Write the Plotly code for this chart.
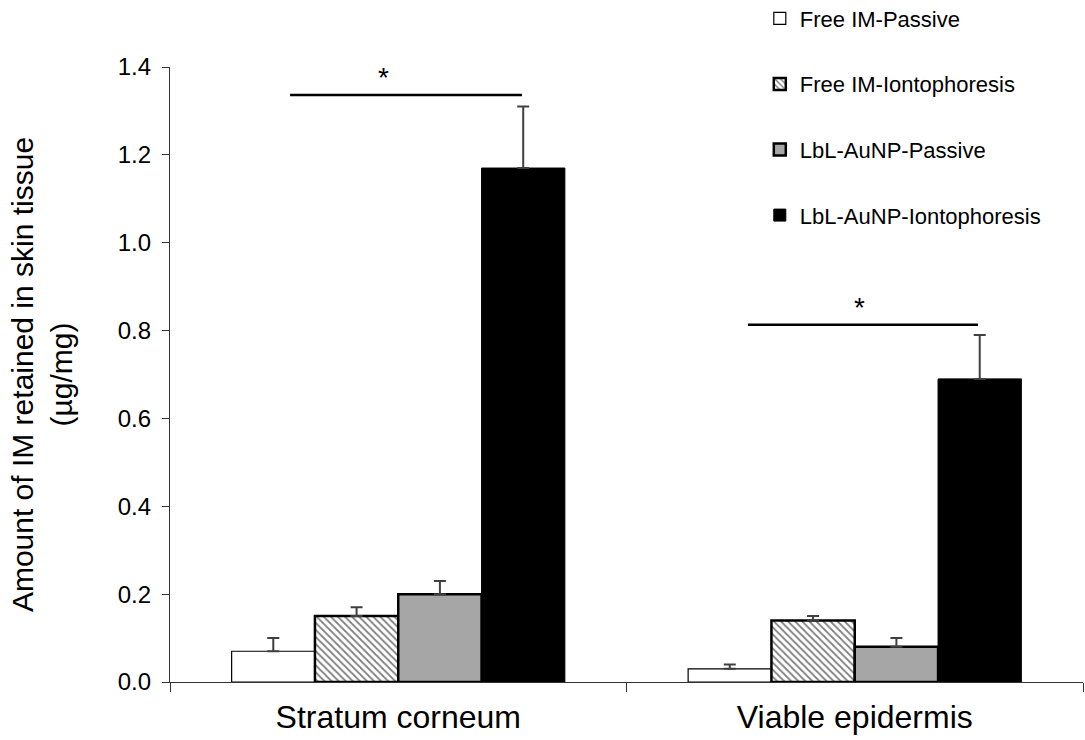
import plotly.graph_objects as go

# Skin layers (x categories)
layers = ["Stratum corneum", "Viable epidermis"]

# Mean amount of IM retained (µg/mg) and upper SD, per formulation
free_passive = [0.07, 0.03]
free_passive_sd = [0.03, 0.01]
free_ionto = [0.15, 0.14]
free_ionto_sd = [0.02, 0.01]
lbl_passive = [0.20, 0.08]
lbl_passive_sd = [0.03, 0.02]
lbl_ionto = [1.17, 0.69]
lbl_ionto_sd = [0.14, 0.10]

y_ticks = [0.0, 0.2, 0.4, 0.6, 0.8, 1.0, 1.2, 1.4]

# Significance brackets: (x start, x end, y level, star x) in axis units
sig_brackets = [(-0.237, 0.271, 1.336, -0.033), (0.766, 1.270, 0.813, 1.011)]

FONT = "Liberation Sans, Arial, sans-serif"
x_pos = list(range(len(layers)))

series = [
    ("Free IM-Passive", free_passive, free_passive_sd,
     dict(color="white", line=dict(color="black", width=1.2))),
    ("Free IM-Iontophoresis", free_ionto, free_ionto_sd,
     dict(color="white", line=dict(color="black", width=2.5),
          pattern=dict(shape="\\", fgcolor="black", bgcolor="white",
                       size=5, solidity=0.35))),
    ("LbL-AuNP-Passive", lbl_passive, lbl_passive_sd,
     dict(color="#a6a6a6", line=dict(color="black", width=2.5))),
    ("LbL-AuNP-Iontophoresis", lbl_ionto, lbl_ionto_sd,
     dict(color="black", line=dict(color="black", width=1))),
]

fig = go.Figure()
for i, (name, vals, sd, marker) in enumerate(series):
    fig.add_trace(go.Bar(
        x=x_pos, y=vals, name=name, marker=marker,
        legendgroup=f"g{i}",
        error_y=dict(type="data", array=sd, arrayminus=[0] * len(sd),
                     symmetric=False, color="#404040", thickness=2, width=6),
    ))

for x0, x1, yv, xs in sig_brackets:
    fig.add_shape(type="line", xref="x", yref="y", x0=x0, x1=x1, y0=yv, y1=yv,
                  line=dict(color="black", width=2.5))
    fig.add_annotation(x=xs, y=yv, xref="x", yref="y",
                       text="*", showarrow=False, yanchor="bottom",
                       font=dict(size=28, color="black", family=FONT))

fig.update_layout(
    width=1085, height=740,
    margin=dict(l=170, r=2, t=67, b=58, autoexpand=False),
    paper_bgcolor="white", plot_bgcolor="white",
    barmode="group", bargap=0.27, bargroupgap=0,
    font=dict(family=FONT, size=22, color="black"),
    showlegend=True,
    legend=dict(x=0.646, y=1.113, xanchor="left", yanchor="top",
                bgcolor="rgba(0,0,0,0)", tracegroupgap=34,
                font=dict(size=22, family=FONT), itemwidth=30),
)
fig.update_xaxes(
    range=[-0.5, 1.5], tickmode="array", tickvals=x_pos, ticktext=layers,
    ticks="", showline=True, linecolor="#333333", linewidth=1.2,
    showgrid=False, zeroline=False, tickfont=dict(size=32),
    ticklabelstandoff=6,
    minor=dict(tickmode="array", tickvals=[-0.5, 0.5, 1.5], ticks="outside",
               ticklen=9, tickcolor="#333333", tickwidth=1.2, showgrid=False),
)
fig.update_yaxes(
    range=[0, 1.4], tickmode="array", tickvals=y_ticks,
    ticktext=[f"{v:.1f}" for v in y_ticks],
    ticks="outside", ticklen=7, tickcolor="#333333", tickwidth=1.2,
    showline=True, linecolor="#333333", linewidth=1.2,
    showgrid=False, zeroline=False, tickfont=dict(size=24),
    ticklabelstandoff=6,
    title=dict(text="Amount of IM retained in skin tissue<br>(µg/mg)",
               font=dict(size=30), standoff=36),
)

fig.write_html("out.html")
